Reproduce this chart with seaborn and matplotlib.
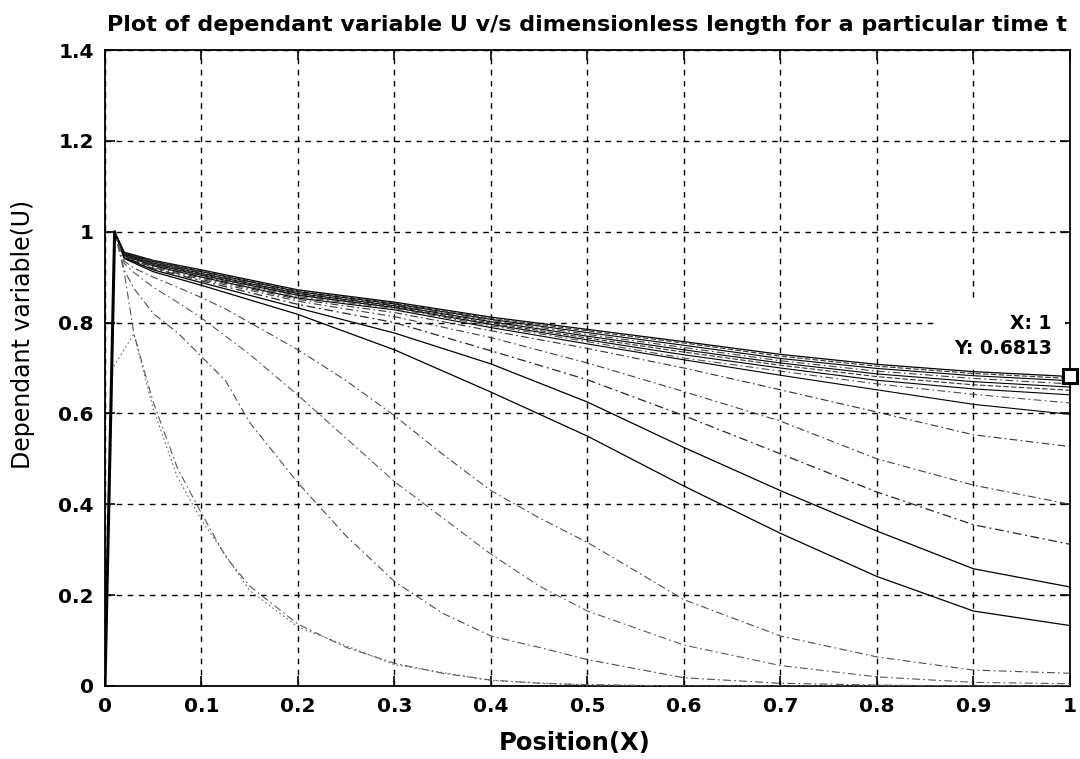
import matplotlib
matplotlib.use("Agg")
import matplotlib.pyplot as plt
from matplotlib.patches import Rectangle
import seaborn as sns

# ---------------------------------------------------------------
# Profiles U(X) at successive times (latest/highest first)
# ---------------------------------------------------------------
x_upper = [0, 0.01, 0.02, 0.05, 0.1, 0.2, 0.3, 0.4, 0.5, 0.6, 0.7, 0.8, 0.9, 1.0]

u01 = [0, 1.0, .955, .937, .916, .872, .845, .812, .785, .758, .730, .708, .692, .6813]
u02 = [0, 1.0, .954, .936, .914, .870, .843, .810, .782, .755, .726, .704, .688, .677]
u03 = [0, 1.0, .953, .934, .912, .868, .841, .807, .778, .750, .721, .699, .683, .672]
u04 = [0, 1.0, .952, .933, .910, .866, .839, .805, .774, .745, .716, .693, .677, .665]
u05 = [0, 1.0, .951, .931, .908, .864, .837, .802, .770, .740, .711, .687, .670, .658]
u06 = [0, 1.0, .950, .930, .906, .862, .835, .799, .766, .735, .706, .681, .663, .651]
u07 = [0, 1.0, .949, .928, .904, .860, .833, .796, .762, .729, .700, .673, .654, .641]
u08 = [0, 1.0, .948, .927, .902, .857, .831, .793, .758, .722, .693, .665, .642, .623]
u09 = [0, 1.0, .947, .925, .900, .854, .828, .789, .753, .718, .684, .652, .620, .598]
u10 = [0, 1.0, .946, .923, .898, .851, .822, .782, .743, .700, .652, .603, .553, .527]
u11 = [0, 1.0, .945, .921, .895, .847, .813, .767, .711, .648, .583, .500, .442, .400]
u12 = [0, 1.0, .944, .919, .892, .840, .800, .738, .674, .595, .511, .427, .355, .312]
u13 = [0, 1.0, .943, .916, .888, .832, .777, .709, .625, .525, .430, .341, .258, .218]
u14 = [0, 1.0, .941, .912, .882, .818, .740, .647, .550, .440, .336, .241, .165, .133]

x_lower = [0, 0.01, 0.02, 0.03, 0.05, 0.075, 0.1, 0.125, 0.15, 0.2, 0.25,
           0.3, 0.35, 0.4, 0.45, 0.5, 0.6, 0.7, 0.8, 0.9, 1.0]

u15 = [0, 1.0, .935, .920, .900, .878, .855, .830, .800, .740, .672,
       .595, .510, .430, .370, .316, .190, .110, .064, .035, .028]
u16 = [0, 1.0, .930, .910, .878, .845, .810, .770, .730, .640, .545,
       .450, .370, .290, .220, .165, .090, .045, .020, .008, .005]
u17 = [0, 1.0, .915, .875, .820, .778, .725, .672, .580, .447, .330,
       .230, .160, .110, .085, .058, .018, .006, .002, 0, 0]
u18 = [0, 1.0, .910, .775, .625, .480, .380, .285, .220, .136, .085,
       .050, .028, .013, .006, .003, 0, 0, 0, 0, 0]

x_start = [0, 0.008, 0.03, 0.05, 0.075, 0.1, 0.15, 0.2, 0.3, 0.4, 0.5, 0.6, 1.0]
u19 = [0, .70, .775, .61, .46, .365, .21, .13, .047, .012, .002, 0, 0]

x_ticks = [0, 0.1, 0.2, 0.3, 0.4, 0.5, 0.6, 0.7, 0.8, 0.9, 1.0]
x_tick_labels = ["0", "0.1", "0.2", "0.3", "0.4", "0.5", "0.6", "0.7", "0.8", "0.9", "1"]
y_ticks = [0, 0.2, 0.4, 0.6, 0.8, 1.0, 1.2, 1.4]
y_tick_labels = ["0", "0.2", "0.4", "0.6", "0.8", "1", "1.2", "1.4"]

tip_x = 1.0
tip_y = 0.6813

# ---------------------------------------------------------------
curves = [
    (x_upper, u01), (x_upper, u02), (x_upper, u03), (x_upper, u04),
    (x_upper, u05), (x_upper, u06), (x_upper, u07), (x_upper, u08),
    (x_upper, u09), (x_upper, u10), (x_upper, u11), (x_upper, u12),
    (x_upper, u13), (x_upper, u14),
    (x_lower, u15), (x_lower, u16), (x_lower, u17), (x_lower, u18),
    (x_start, u19),
]

solid = "-"
dashdot = (0, (7, 3, 1.5, 3))
dashed = (0, (5, 2))
dotted = (0, (1.5, 2.5))
line_styles = [
    ("black", solid, 0.9), ("0.2", dashed, 0.8), ("black", solid, 0.8),
    ("0.25", dashdot, 0.8), ("black", solid, 0.8), ("0.2", dashed, 0.8),
    ("black", solid, 0.8), ("0.3", dashdot, 0.8), ("black", solid, 0.8),
    ("0.2", dashdot, 0.8), ("0.25", dashdot, 0.8), ("0.15", dashdot, 0.9),
    ("black", solid, 0.9), ("black", solid, 0.9),
    ("0.3", dashdot, 0.8), ("0.35", dashdot, 0.8), ("0.3", dashdot, 0.8),
    ("0.35", dashdot, 0.8), ("0.4", dotted, 0.8),
]

sns.set_theme(style="white")
plt.rcParams["font.family"] = ["DejaVu Sans"]
plt.rcParams["text.color"] = "black"
plt.rcParams["axes.labelcolor"] = "black"

fig = plt.figure(figsize=(10.8, 7.59), dpi=100)
ax = fig.add_axes([0.0972, 0.0962, 0.8935, 0.8379])

for (xs, ys), (col, ls, lw) in zip(curves, line_styles):
    sns.lineplot(x=xs, y=ys, ax=ax, color=col, linestyle=ls, linewidth=lw,
                 sort=False, estimator=None, zorder=3)

# thick shared rise at the left boundary
sns.lineplot(x=x_upper[:2], y=u01[:2], ax=ax, color="black", linewidth=2.2,
             sort=False, estimator=None, zorder=3)

ax.set_xlim(0, 1)
ax.set_ylim(0, 1.4)
ax.set_xticks(x_ticks)
ax.set_xticklabels(x_tick_labels, fontsize=14.5, fontweight="bold", color="black")
ax.set_yticks(y_ticks)
ax.set_yticklabels(y_tick_labels, fontsize=14.5, fontweight="bold", color="black")

ax.grid(True, color="black", linestyle=(0, (4, 4)), linewidth=1.0, zorder=1)
ax.set_axisbelow(True)
for sp in ax.spines.values():
    sp.set_color("black")
    sp.set_linewidth(1.3)
ax.tick_params(direction="in", length=7, width=1.2, colors="black",
               top=True, right=True, bottom=True, left=True, pad=8)

ax.set_title("Plot of dependant variable U v/s dimensionless length for a particular time t",
             fontsize=16, fontweight="bold", color="black", pad=14)
ax.set_xlabel("Position(X)", fontsize=17.5, fontweight="bold", color="black")
ax.xaxis.set_label_coords(0.487, -0.071)
ax.set_ylabel("Dependant variable(U)", fontsize=17, color="black")
ax.yaxis.set_label_coords(-0.072, 0.553)

# data tip at the outlet
ax.add_patch(Rectangle((0.862, 0.70), 0.133, 0.145, facecolor="white",
                       edgecolor="none", zorder=2))
ax.text(0.981, 0.797, "X: 1", ha="right", va="center", fontsize=13.5,
        fontweight="bold", color="black", zorder=5)
ax.text(0.981, 0.742, "Y: 0.6813", ha="right", va="center", fontsize=13.5,
        fontweight="bold", color="black", zorder=5)
ax.plot([tip_x], [tip_y], marker="s", markersize=10, markerfacecolor="white",
        markeredgecolor="black", markeredgewidth=2.2, clip_on=False, zorder=6)

fig.savefig("out.png", dpi=100, facecolor="white")
